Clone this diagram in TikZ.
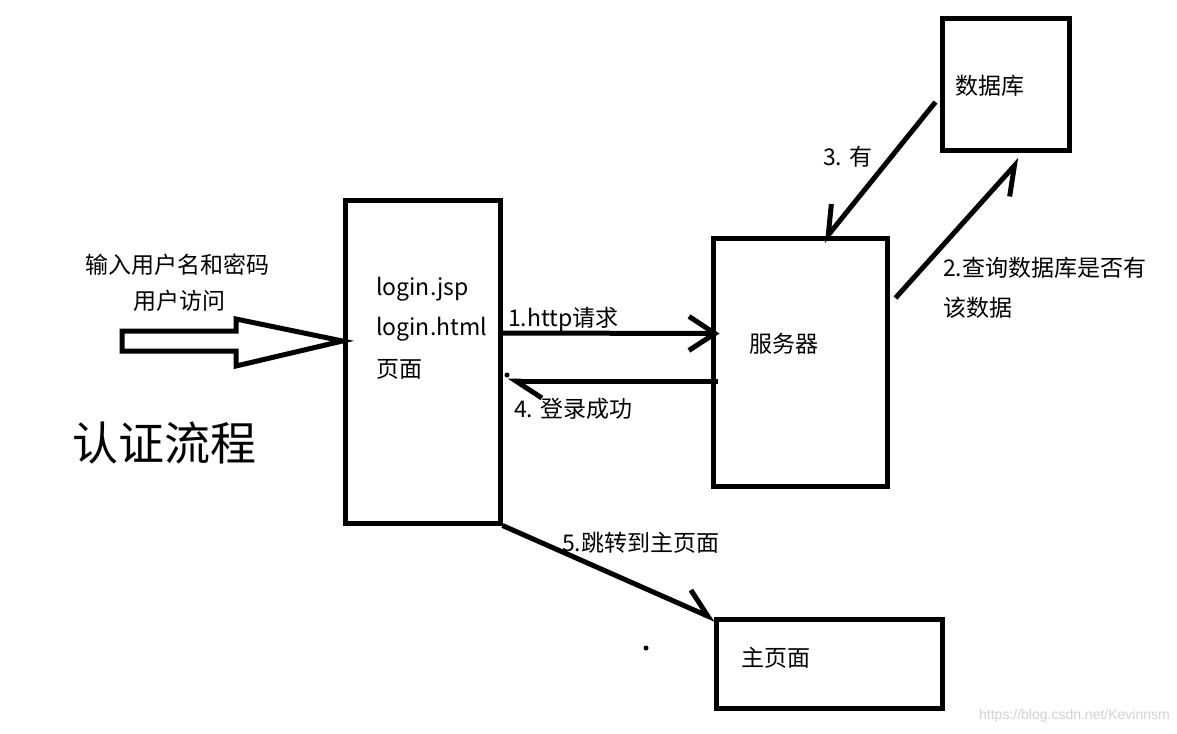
\documentclass[tikz,border=0pt]{standalone}
\usepackage{fontspec}
\setmainfont{Noto Sans CJK SC}
\newfontfamily\wmfont{Liberation Sans}
\usetikzlibrary{arrows.meta}
\tikzset{
  box/.style={draw,line width=5pt,minimum width=#1,inner sep=0pt},
  lbl/.style={anchor=west,inner sep=0pt,font=\fontsize{23}{27}\selectfont},
  conn/.style={line width=5pt},
  bar/.style={-{Straight Barb[length=26pt,width=34pt,line width=5pt,#1]}},
}
\begin{document}
\begin{tikzpicture}[x=1pt,y=-1pt]
\useasboundingbox[fill=white] (0,0) rectangle (1177,733);
% boxes
\node[box=155pt,minimum height=323pt] (login) at (422.5,361.5) {};
\node[box=174pt,minimum height=248pt] (srv) at (800,362) {};
\node[box=127pt,minimum height=131pt] (db) at (1005.5,84.5) {};
\node[box=226pt,minimum height=89pt] (main) at (829,663.5) {};
% texts
\node[lbl] (t1) at (376,289) {login.jsp};
\node[lbl] (t2) at (376,329) {login.html};
\node[lbl] (t3) at (376,369) {页面};
\node[lbl] (tsrv) at (749,344) {服务器};
\node[lbl] (tdb) at (955,86) {数据库};
\node[lbl] (tmain) at (741,658) {主页面};
\node[lbl] (in1) at (85,265) {输入用户名和密码};
\node[lbl] (in2) at (133,301) {用户访问};
\node[lbl] (l1) at (508,319) {1.http请求};
\node[lbl] (l4) at (514,409) {4. 登录成功};
\node[lbl] (l3) at (823,157) {3. 有};
\node[lbl] (l2a) at (943,268) {2.查询数据库是否有};
\node[lbl] (l2b) at (943,308) {该数据};
\node[lbl] (l5) at (562,543) {5.跳转到主页面};
\node[anchor=west,inner sep=0pt,font=\fontsize{46}{50}\selectfont] (title) at (72,443) {认证流程};
\node[anchor=east,inner sep=0pt,text=black!18,font=\wmfont\fontsize{14}{16}\selectfont] (wm) at (1170,716) {https://blog.csdn.net/Kevinnsm};
% big input arrow
\coordinate (tip) at ([yshift=20.5pt]login.west);
\draw[line width=5pt,line join=miter] (122,331) -- (236,331) -- (236,319) -- (tip) -- (236,366) -- (236,351) -- (122,351) -- cycle;
% connectors
\draw[conn,bar={}] ([yshift=28.5pt]login.east) -- ([xshift=9pt,yshift=28.5pt]srv.west);
\draw[conn,bar=left] ([xshift=7pt,yshift=-19pt]srv.west) -- ([xshift=5pt,yshift=-19.5pt]login.east);
\draw[conn,bar=right] ([xshift=6pt,yshift=64pt]srv.east) -- ([xshift=14.5pt,yshift=-7pt]db.south);
\draw[conn,bar=right] ([xshift=-4pt,yshift=-17.5pt]db.west) -- ([xshift=23pt,yshift=-6pt]srv.north);
\draw[conn,bar=left] (login.south east) -- ([xshift=2pt,yshift=-3pt]main.north west);
% stray dots
\fill (507,375) circle (2.5pt);
\fill (646,648) circle (2.5pt);
\end{tikzpicture}
\end{document}
